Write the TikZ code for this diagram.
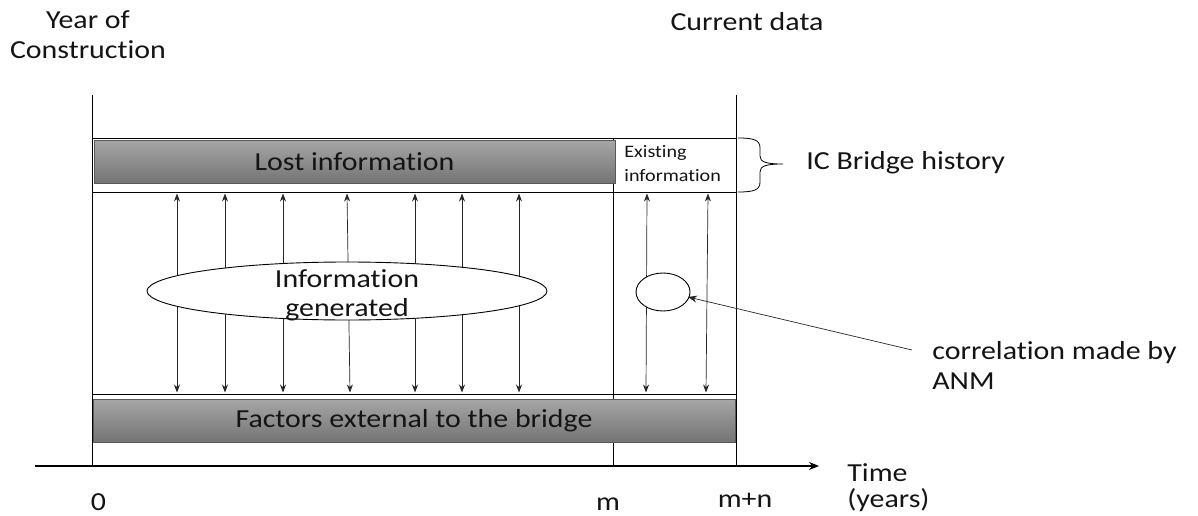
\documentclass[tikz,border=0pt]{standalone}
\usepackage{fontspec}
\setmainfont[FakeStretch=1.15,RawFeature={-liga;-clig;-calt;-dlig}]{Carlito}
\usetikzlibrary{arrows.meta,shapes.geometric}
\definecolor{boxtop}{RGB}{166,166,166}
\definecolor{boxbot}{RGB}{116,116,116}
\definecolor{txt}{RGB}{20,20,20}
\newcommand{\tiNL}{t\kern0pt i}
\begin{document}
\begin{tikzpicture}[x=1pt,y=-1pt,line width=0.8pt,
  lbl/.style={font=\fontsize{26}{30}\selectfont,text=txt,inner sep=0pt},
  smalllbl/.style={font=\fontsize{17.5}{24}\selectfont,text=txt,inner sep=0pt,align=left},
  graybox/.style={draw=black!65,top color=boxtop,bottom color=boxbot,inner sep=0pt,line width=0.8pt},
  frameline/.style={draw=black,line width=0.9pt},
  dbl/.style={{Stealth[length=8pt,width=6pt]}-{Stealth[length=8pt,width=6pt]},line width=0.7pt,draw=black!85},
  oval/.style={draw=black,fill=white,ellipse,line width=0.9pt,inner sep=0pt},
  axisarrow/.style={-{Stealth[length=10pt,width=8pt]},line width=1.8pt},
  ptr/.style={-{Stealth[length=9pt,width=7pt]},line width=0.7pt,draw=black!85}
]
\useasboundingbox (0,0) rectangle (1198,516);

% frame coordinates
\coordinate (lt) at (92,95);
\coordinate (lb) at (92,466);
\coordinate (rt) at (736,95);
\coordinate (rb) at (736,466);
\coordinate (mt) at (613,138);
\coordinate (mb) at (613,466);
\coordinate (h1l) at (92,138);
\coordinate (h1r) at (736,138);
\coordinate (h2l) at (92,192);
\coordinate (h2r) at (736,192);
\coordinate (h3l) at (92,394);
\coordinate (h3r) at (736,394);

\draw[frameline] (lt) -- (lb);
\draw[frameline] (rt) -- (rb);
\draw[frameline] (mt) -- (mb);
\draw[frameline] (h1l) -- (h1r);
\draw[frameline] (h2l) -- (h2r);
\draw[frameline] (h3l) -- (h3r);

% gray boxes
\node[graybox,minimum width=521pt,minimum height=43pt] (lost) at (354.5,161.5) {};
\node[lbl] at (lost) {Lost informa\tiNL on};
\node[graybox,minimum width=642pt,minimum height=43pt] (factors) at (414,420.5) {};
\node[lbl] at (factors) {Factors external to the bridge};

% existing information
\node[smalllbl,anchor=west] (exist) at (624,164) {Existing\\informa\tiNL on};

% vertical double arrows
\foreach \i/\a/\b in {1/177/177,2/225/225,3/283/283,4/347/350,5/415/415,6/462/462,7/519/519,8/647/646,9/708/706}{
  \coordinate (t\i) at (\a,193.5);
  \coordinate (b\i) at (\b,392.5);
  \draw[dbl] (t\i) -- (b\i);
}

% ellipses
\node[oval,minimum width=400pt,minimum height=58pt] (gen) at (347,291) {};
\node[lbl,align=center,font=\fontsize{26}{29}\selectfont] at (347,295) {Informa\tiNL on\\generated};
\node[oval,minimum width=54pt,minimum height=38pt] (corr) at (663,292) {};

% correlation label and pointer
\node[lbl,align=left,anchor=north west] (corrlbl) at (932,341) {correla\tiNL on made by\\ANM};
\coordinate (ptrstart) at (912,350);
\coordinate (ptrend) at (688,297);
\draw[ptr] (ptrstart) -- (ptrend);

% brace
\draw[line width=0.8pt] (738,138) .. controls (754,138) and (760,140) .. (760,148) -- (760,156)
  .. controls (760,162) and (766,164) .. (783,164)
  .. controls (766,164) and (760,166) .. (760,172) -- (760,182)
  .. controls (760,190) and (754,192) .. (738,192);
\node[lbl,anchor=west] (ic) at (806,163) {IC Bridge history};

% axis
\coordinate (ax0) at (35,466);
\coordinate (ax1) at (819,466);
\draw[axisarrow] (ax0) -- (ax1);
\node[lbl,anchor=base west] (time) at (847,481) {Time};
\node[lbl,anchor=base west] (years) at (847,507) {(years)};
\node[lbl,anchor=base] (zero) at (98.5,510) {0};
\node[lbl,anchor=base] (m) at (608,510) {m};
\node[lbl,anchor=base] (mn) at (745,507) {m+n};

% top labels
\node[lbl,align=center] (year) at (88,35) {Year of\\Construc\tiNL on};
\node[lbl] (curr) at (747,22) {Current data};
\end{tikzpicture}
\end{document}
